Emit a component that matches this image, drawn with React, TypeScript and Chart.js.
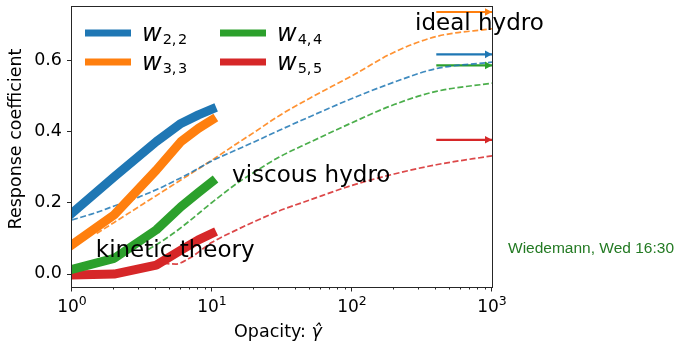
import React, { useEffect, useRef } from 'react';
import { Chart, registerables } from 'chart.js';

Chart.register(...registerables);

const SANS = '"DejaVu Sans", "Liberation Sans", sans-serif';

// ---- kinetic theory (thick solid lines) ----
const kineticOpacity = [1, 2, 4, 6, 8, 10];
const kineticW22 = [0.17, 0.272, 0.371, 0.422, 0.446, 0.462];
const kineticW33 = [0.081, 0.165, 0.291, 0.371, 0.408, 0.432];
const kineticW44 = [0.012, 0.043, 0.123, 0.188, 0.228, 0.258];
const kineticW55 = [-0.004, -0.001, 0.024, 0.066, 0.095, 0.113];

// ---- viscous hydro (dashed lines) ----
const hydroOpacity = [1, 1.5, 2, 3, 3.5, 4.5, 5.5, 7, 10, 15, 20, 30, 50, 100, 200, 400, 1000];
const hydroW22 = [0.151, 0.172, 0.19, 0.215, 0.226, 0.245, 0.262, 0.283, 0.317, 0.348, 0.37, 0.402, 0.441, 0.492, 0.538, 0.576, 0.594];
const hydroW33 = [null, 0.113, 0.144, 0.188, 0.205, 0.232, 0.254, 0.28, 0.319, 0.365, 0.397, 0.443, 0.493, 0.556, 0.622, 0.666, 0.688];
const hydroW44 = [null, null, null, null, 0.068, 0.094, 0.118, 0.15, 0.2, 0.253, 0.285, 0.327, 0.369, 0.424, 0.475, 0.512, 0.535];
const hydroW55 = [null, null, null, null, null, 0.029, 0.027, 0.045, 0.088, 0.123, 0.146, 0.176, 0.207, 0.248, 0.28, 0.306, 0.331];

// ---- ideal hydro (arrows) ----
const idealOpacity = [400, 1000];
const idealValues = [0.616, 0.735, 0.585, 0.376];

// ---- series meta ----
const seriesColors = ['#1f77b4', '#ff7f0e', '#2ca02c', '#d62728'];
const seriesDashColors = ['rgba(31,119,180,0.85)', 'rgba(255,127,14,0.85)', 'rgba(44,160,44,0.85)', 'rgba(214,39,40,0.85)'];
const seriesSymbol = 'w';
const seriesSub = ['2,\u200A2', '3,\u200A3', '4,\u200A4', '5,\u200A5'];

// ---- axes ----
const xTickValues = [1, 10, 100, 1000];
const xTickBase = '10';
const xTickExps = ['0', '1', '2', '3'];
const yTickValues = [0, 0.2, 0.4, 0.6];
const yTickLabels = ['0.0', '0.2', '0.4', '0.6'];
const xMin = 1;
const xMax = 1000;
const yMin = -0.0374;
const yMax = 0.749;

const xTitle = 'Opacity: ';
const xTitleSymbol = '\u03B3\u0302';
const yTitle = 'Response coefficient';

// ---- annotations (data coordinates) ----
const annotations = [
  { text: 'kinetic theory', x: 1.48, y: 0.047 },
  { text: 'viscous hydro', x: 13.9, y: 0.258 },
  { text: 'ideal hydro', x: 282, y: 0.684 },
];
const footnote = 'Wiedemann, Wed 16:30';

const kinetic = [kineticW22, kineticW33, kineticW44, kineticW55];
const hydro = [hydroW22, hydroW33, hydroW44, hydroW55];

const decorPlugin = {
  id: 'decor',
  afterDatasetsDraw(chart: any) {
    const { ctx, chartArea: a, scales } = chart;
    const xs = scales.x;
    const ys = scales.y;
    ctx.save();

    // arrow heads
    chart.data.datasets.forEach((ds: any, i: number) => {
      if (!ds.arrowHead) return;
      const meta = chart.getDatasetMeta(i);
      const tip = meta.data[meta.data.length - 1];
      ctx.fillStyle = ds.borderColor;
      ctx.beginPath();
      ctx.moveTo(tip.x, tip.y);
      ctx.lineTo(tip.x - 7, tip.y - 3.8);
      ctx.lineTo(tip.x - 7, tip.y + 3.8);
      ctx.closePath();
      ctx.fill();
    });

    // frame
    ctx.strokeStyle = '#262626';
    ctx.lineWidth = 1;
    ctx.strokeRect(a.left - 0.5, a.top - 0.5, a.right - a.left + 1, a.bottom - a.top + 1);

    // ticks
    ctx.beginPath();
    xTickValues.forEach((v) => {
      const px = Math.round(xs.getPixelForValue(v)) - 0.5;
      ctx.moveTo(px, a.bottom);
      ctx.lineTo(px, a.bottom + 4.5);
    });
    for (let d = 1; d < xMax; d *= 10) {
      for (let m = 2; m <= 9; m++) {
        const px = Math.round(xs.getPixelForValue(d * m)) - 0.5;
        ctx.moveTo(px, a.bottom);
        ctx.lineTo(px, a.bottom + 2.5);
      }
    }
    yTickValues.forEach((v) => {
      const py = Math.round(ys.getPixelForValue(v)) + 0.5;
      ctx.moveTo(a.left, py);
      ctx.lineTo(a.left - 5, py);
    });
    ctx.stroke();

    // annotations
    ctx.fillStyle = '#000';
    ctx.font = `23px ${SANS}`;
    ctx.textAlign = 'left';
    ctx.textBaseline = 'alphabetic';
    annotations.forEach((an) => {
      ctx.fillText(an.text, xs.getPixelForValue(an.x), ys.getPixelForValue(an.y));
    });

    // legend
    const cols = [a.left + 13, a.left + 148];
    const rows = [a.top + 26, a.top + 55];
    seriesColors.forEach((c, i) => {
      const cx = cols[Math.floor(i / 2)];
      const cy = rows[i % 2];
      ctx.strokeStyle = c;
      ctx.lineWidth = 7;
      ctx.lineCap = 'butt';
      ctx.beginPath();
      ctx.moveTo(cx, cy);
      ctx.lineTo(cx + 46, cy);
      ctx.stroke();
      ctx.fillStyle = '#000';
      ctx.font = `oblique 24px ${SANS}`;
      ctx.textAlign = 'left';
      ctx.fillText(seriesSymbol, cx + 57, cy + 7.5);
      const wW = ctx.measureText(seriesSymbol).width;
      ctx.font = `14.5px ${SANS}`;
      ctx.fillText(seriesSub[i], cx + 57 + wW + 1, cy + 11);
    });

    ctx.restore();
  },
  afterDraw(chart: any) {
    const { ctx, chartArea: a, scales } = chart;
    const xs = scales.x;
    ctx.save();
    ctx.fillStyle = '#000';
    // x tick labels: 10^n
    ctx.textBaseline = 'alphabetic';
    ctx.textAlign = 'left';
    xTickValues.forEach((v, i) => {
      ctx.font = `17px ${SANS}`;
      const wb = ctx.measureText(xTickBase).width;
      ctx.font = `12.5px ${SANS}`;
      const we = ctx.measureText(xTickExps[i]).width;
      const px = xs.getPixelForValue(v);
      const left = px - (wb + we) / 2;
      ctx.font = `17px ${SANS}`;
      ctx.fillText(xTickBase, left, 312);
      ctx.font = `12.5px ${SANS}`;
      ctx.fillText(xTickExps[i], left + wb, 305);
    });
    // y title
    ctx.font = `17.5px ${SANS}`;
    ctx.translate(16, 139);
    ctx.rotate(-Math.PI / 2);
    ctx.textAlign = 'center';
    ctx.textBaseline = 'middle';
    ctx.fillText(yTitle, 0, 0);
    ctx.setTransform(1, 0, 0, 1, 0, 0);
    // x title
    ctx.textBaseline = 'alphabetic';
    ctx.textAlign = 'left';
    ctx.font = `17.5px ${SANS}`;
    const w1 = ctx.measureText(xTitle).width;
    ctx.font = `oblique 17.5px ${SANS}`;
    const w2 = ctx.measureText(xTitleSymbol).width;
    const start = (a.left + a.right) / 2 - (w1 + w2) / 2 - 4;
    ctx.font = `17.5px ${SANS}`;
    ctx.fillText(xTitle, start, 337);
    ctx.font = `oblique 17.5px ${SANS}`;
    ctx.fillText(xTitleSymbol, start + w1, 337);
    // footnote
    ctx.fillStyle = '#237a23';
    ctx.font = `15.5px "Liberation Sans", sans-serif`;
    ctx.fillText(footnote, 508, 253);
    ctx.restore();
  },
};

export default function App() {
  const ref = useRef<HTMLCanvasElement | null>(null);

  useEffect(() => {
    if (!ref.current) return;
    const datasets: any[] = [];
    kinetic.forEach((vals, i) => {
      datasets.push({
        data: kineticOpacity.map((g, j) => ({ x: g, y: vals[j] })),
        borderColor: seriesColors[i],
        borderWidth: 9,
        borderCapStyle: 'square',
        borderJoinStyle: 'round',
        pointRadius: 0,
        tension: 0,
        clip: 0,
      });
    });
    hydro.forEach((vals, i) => {
      datasets.push({
        data: hydroOpacity
          .map((g, j) => ({ x: g, y: vals[j] }))
          .filter((p) => p.y !== null),
        borderColor: seriesDashColors[i],
        borderWidth: 1.7,
        borderDash: [6, 2.6],
        pointRadius: 0,
        cubicInterpolationMode: 'monotone',
        clip: 0,
      });
    });
    idealValues.forEach((v, i) => {
      datasets.push({
        data: idealOpacity.map((g) => ({ x: g, y: v })),
        borderColor: seriesColors[i],
        borderWidth: 2.2,
        pointRadius: 0,
        arrowHead: true,
        clip: false,
      });
    });

    const chart = new Chart(ref.current, {
      type: 'line',
      data: { datasets },
      options: {
        animation: false,
        responsive: false,
        events: [],
        layout: { padding: { left: 0, right: 186, top: 7, bottom: 0 } },
        plugins: {
          legend: { display: false },
          tooltip: { enabled: false },
        },
        scales: {
          x: {
            type: 'logarithmic',
            min: xMin,
            max: xMax,
            grid: { display: false, drawTicks: false },
            border: { display: false },
            afterBuildTicks: (s: any) => {
              s.ticks = xTickValues.map((v) => ({ value: v }));
            },
            afterFit: (s: any) => {
              s.height = 57;
              s.paddingLeft = 0;
              s.paddingRight = 0;
            },
            ticks: { display: false },
          },
          y: {
            type: 'linear',
            min: yMin,
            max: yMax,
            grid: { display: false, drawTicks: false },
            border: { display: false },
            afterBuildTicks: (s: any) => {
              s.ticks = yTickValues.map((v) => ({ value: v }));
            },
            afterFit: (s: any) => {
              s.width = 72;
              s.paddingTop = 0;
              s.paddingBottom = 0;
            },
            ticks: {
              autoSkip: false,
              padding: 10,
              color: '#000',
              font: { family: SANS, size: 17.5 },
              callback: (v: any) => yTickLabels[yTickValues.indexOf(Number(v))],
            },
          },
        },
      } as any,
      plugins: [decorPlugin as any],
    });
    return () => chart.destroy();
  }, []);

  return (
    <div style={{ position: 'fixed', left: 0, top: 0, width: 678, height: 344, background: '#fff' }}>
      <canvas ref={ref} width={678} height={344} style={{ display: 'block' }} />
    </div>
  );
}
